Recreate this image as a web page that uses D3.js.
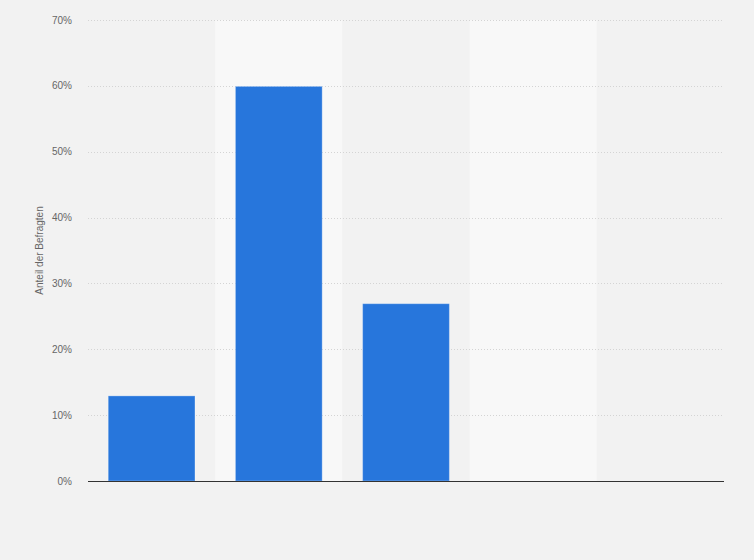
<!DOCTYPE html>
<html>
<head>
<meta charset="utf-8">
<script src="https://cdn.jsdelivr.net/npm/d3@7"></script>
<style>
  body { margin: 0; background: #f2f2f2; }
  svg { display: block; font-family: "Liberation Sans", Arial, sans-serif; }
  .tick-label { fill: #666; font-size: 10px; }
  .axis-title { fill: #666; font-size: 10px; }
</style>
</head>
<body>
<svg id="chart" width="754" height="560"></svg>
<script>
// categories (no labels shown in the picture)
var categories = ["A", "B", "C", "D", "E"];
var values = [13, 60, 27, 0, 0];
var yTicks = [0, 10, 20, 30, 40, 50, 60, 70];

var W = 754, H = 560;
var plotLeft = 88, plotRight = 724, plotTop = 20, plotBottom = 481;

var svg = d3.select("#chart");

svg.append("rect")
  .attr("width", W).attr("height", H)
  .attr("fill", "#f2f2f2");

var x = d3.scaleBand()
  .domain(categories)
  .range([plotLeft, plotRight])
  .paddingInner(0.31)
  .paddingOuter(0.155);

var bands = d3.scaleBand()
  .domain(categories)
  .range([plotLeft, plotRight]);

var y = d3.scaleLinear()
  .domain([0, 70])
  .range([plotBottom, plotTop]);

//alternating column shading
svg.append("g").selectAll("rect")
  .data(categories)
  .enter()
  .append("rect")
  .attr("x", function(d){ return bands(d); })
  .attr("y", plotTop)
  .attr("width", bands.bandwidth())
  .attr("height", plotBottom - plotTop)
  .attr("fill", function(d,i){ return i % 2 == 1 ? "#f8f8f8" : "#f2f2f2"; });

//grid
svg.append("g").selectAll("line")
  .data(yTicks.filter(function(d){ return d > 0; }))
  .enter()
  .append("line")
  .attr("x1", plotLeft).attr("x2", plotRight)
  .attr("y1", function(d){ return Math.round(y(d)) + 0.5; })
  .attr("y2", function(d){ return Math.round(y(d)) + 0.5; })
  .attr("stroke", "#d4d4d4")
  .attr("stroke-width", 1)
  .attr("stroke-dasharray", "1,2");

//tick labels
svg.append("g").selectAll("text")
  .data(yTicks)
  .enter()
  .append("text")
  .attr("class", "tick-label")
  .attr("text-anchor", "end")
  .attr("x", 72)
  .attr("y", function(d){ return y(d) + 3.5; })
  .text(function(d){ return d + "%"; });

//bars
svg.append("g").selectAll("rect")
  .data(values)
  .enter()
  .append("rect")
  .attr("x", function(d,i){ return x(categories[i]) + 0.5; })
  .attr("y", function(d){ return y(d) + 0.5; })
  .attr("width", x.bandwidth() - 1)
  .attr("height", function(d){ return Math.max(0, plotBottom - y(d) - 0.5); })
  .attr("fill", "#2776dc")
  .attr("stroke", "#ffffff")
  .attr("stroke-opacity", function(d){ return d > 0 ? 0.3 : 0; })
  .attr("stroke-width", 1);

//baseline
svg.append("line")
  .attr("x1", plotLeft).attr("x2", plotRight)
  .attr("y1", plotBottom + 0.5).attr("y2", plotBottom + 0.5)
  .attr("stroke", "#333")
  .attr("stroke-width", 1);

svg.append("text")
  .attr("class", "axis-title")
  .attr("text-anchor", "middle")
  .attr("transform", "translate(43," + ((plotTop + plotBottom) / 2) + ") rotate(-90)")
  .text("Anteil der Befragten");
</script>
</body>
</html>
